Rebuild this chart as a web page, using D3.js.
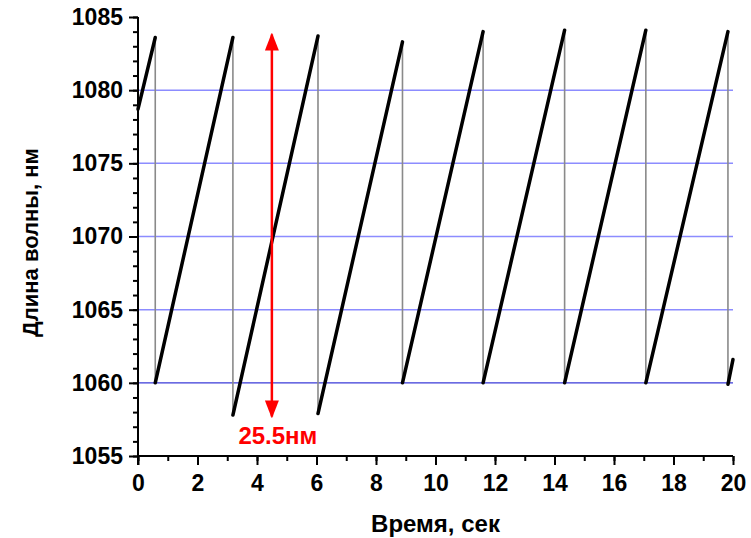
<!DOCTYPE html>
<html>
<head>
<meta charset="utf-8">
<script src="https://cdn.jsdelivr.net/npm/d3@7"></script>
<style>
  body { margin: 0; background: #fff; }
  svg { font-family: "Liberation Sans", Arial, sans-serif; }
  .axis text { font-size: 23px; font-weight: bold; fill: #000; }
  .axis path, .axis line { stroke: #000; stroke-width: 2; }
</style>
</head>
<body>
<svg width="751" height="538"></svg>
<script>
// ramps of the sawtooth: start and end of every linear sweep
var rampStartT = [0, 0.58, 3.19, 6.05, 8.89, 11.6, 14.34, 17.07, 19.83];
var rampStartNm = [1078.7, 1060.0, 1057.8, 1057.9, 1060.0, 1060.0, 1060.0, 1060.0, 1059.9];
var rampEndT = [0.58, 3.19, 6.05, 8.89, 11.6, 14.34, 17.07, 19.83, 20];
var rampEndNm = [1083.6, 1083.6, 1083.7, 1083.3, 1084.0, 1084.1, 1084.1, 1084.0, 1061.6];

var xTicks = [0, 2, 4, 6, 8, 10, 12, 14, 16, 18, 20];
var yTicks = [1055, 1060, 1065, 1070, 1075, 1080, 1085];
var gridNm = [1065, 1070, 1075, 1080];
var baseNm = 1060;

// red arrow marking the tuning range
var arrowT = 4.5;
var arrowNm = [1057.7, 1083.8];
var arrowLabel = "25.5нм";

var svg = d3.select("svg"),
    margin = {top: 17, right: 18, bottom: 82, left: 138},
    width = +svg.attr("width") - margin.left - margin.right,
    height = +svg.attr("height") - margin.top - margin.bottom,
    g = svg.append("g").attr("transform", "translate(" + margin.left + "," + margin.top + ")");

var x = d3.scaleLinear().domain([0, 20]).range([0, width]);
var y = d3.scaleLinear().domain([1055, 1085]).range([height, 0]);

// horizontal grid
g.selectAll(".grid")
  .data(gridNm)
  .enter().append("line")
    .attr("x1", 0).attr("x2", width)
    .attr("y1", function(d) { return y(d); })
    .attr("y2", function(d) { return y(d); })
    .attr("stroke", "#8c8cff")
    .attr("stroke-width", 1.5);

g.append("line")
  .attr("x1", 0).attr("x2", width)
  .attr("y1", y(baseNm)).attr("y2", y(baseNm))
  .attr("stroke", "#3a3ad8")
  .attr("stroke-width", 1.2);

// whole trace as a thin grey line (drops show as verticals)
var trace = [];
rampStartT.forEach(function(t, i) {
  trace.push([t, rampStartNm[i]]);
  trace.push([rampEndT[i], rampEndNm[i]]);
});
var line = d3.line()
    .x(function(d) { return x(d[0]); })
    .y(function(d) { return y(d[1]); });

g.append("path")
  .attr("d", line(trace))
  .attr("fill", "none")
  .attr("stroke", "#8a8a8a")
  .attr("stroke-width", 1.6);

// thick ramps
g.selectAll(".ramp")
  .data(rampStartT)
  .enter().append("line")
    .attr("x1", function(d) { return x(d); })
    .attr("y1", function(d, i) { return y(rampStartNm[i]); })
    .attr("x2", function(d, i) { return x(rampEndT[i]); })
    .attr("y2", function(d, i) { return y(rampEndNm[i]); })
    .attr("stroke", "#000")
    .attr("stroke-width", 3.5)
    .attr("stroke-linecap", "round");

// axes
var xAxis = d3.axisBottom(x).tickValues(xTicks).tickSize(9).tickPadding(5).tickFormat(d3.format("d"));
var yAxis = d3.axisLeft(y).tickValues(yTicks).tickSize(9).tickPadding(6).tickFormat(d3.format("d"));

g.append("g")
  .attr("class", "x axis")
  .attr("transform", "translate(0," + height + ")")
  .call(d3.axisBottom(x).ticks(20).tickSize(5).tickFormat(""))
  .select(".domain").remove();
g.append("g")
  .attr("class", "x axis")
  .attr("transform", "translate(0," + height + ")")
  .call(xAxis)
  .select(".domain").attr("d", "M0,0H" + width);

g.append("g")
  .attr("class", "y axis")
  .call(d3.axisLeft(y).ticks(30).tickSize(5).tickFormat(""))
  .select(".domain").remove();
g.append("g")
  .attr("class", "y axis")
  .call(yAxis)
  .select(".domain").attr("d", "M0,0V" + (height + 9));

g.selectAll(".x.axis text").attr("dy", "0.9em");

// red arrow
var defs = svg.append("defs");
defs.append("marker")
  .attr("id", "head")
  .attr("viewBox", "0 0 18 14")
  .attr("refX", 16).attr("refY", 7)
  .attr("markerWidth", 18).attr("markerHeight", 14)
  .attr("markerUnits", "userSpaceOnUse")
  .attr("orient", "auto-start-reverse")
  .append("path")
    .attr("d", "M0,0L18,7L0,14Z")
    .attr("fill", "#ff0000");

g.append("line")
  .attr("x1", x(arrowT)).attr("x2", x(arrowT))
  .attr("y1", y(arrowNm[0])).attr("y2", y(arrowNm[1]))
  .attr("stroke", "#ff0000")
  .attr("stroke-width", 2.5)
  .attr("marker-start", "url(#head)")
  .attr("marker-end", "url(#head)");

g.append("text")
  .attr("x", x(arrowT) + 6)
  .attr("y", y(arrowNm[0]) + 28)
  .attr("text-anchor", "middle")
  .attr("fill", "#ff0000")
  .attr("font-size", "24px")
  .attr("font-weight", "bold")
  .text(arrowLabel);

// axis titles
svg.append("text")
  .attr("x", margin.left + width / 2)
  .attr("y", 532)
  .attr("text-anchor", "middle")
  .attr("font-size", "24px")
  .attr("font-weight", "bold")
  .text("Время, сек");

svg.append("text")
  .attr("transform", "translate(38," + (margin.top + height / 2 + 6) + ")rotate(-90)")
  .attr("text-anchor", "middle")
  .attr("font-size", "22px")
  .attr("font-weight", "bold")
  .text("Длина волны, нм");
</script>
</body>
</html>
